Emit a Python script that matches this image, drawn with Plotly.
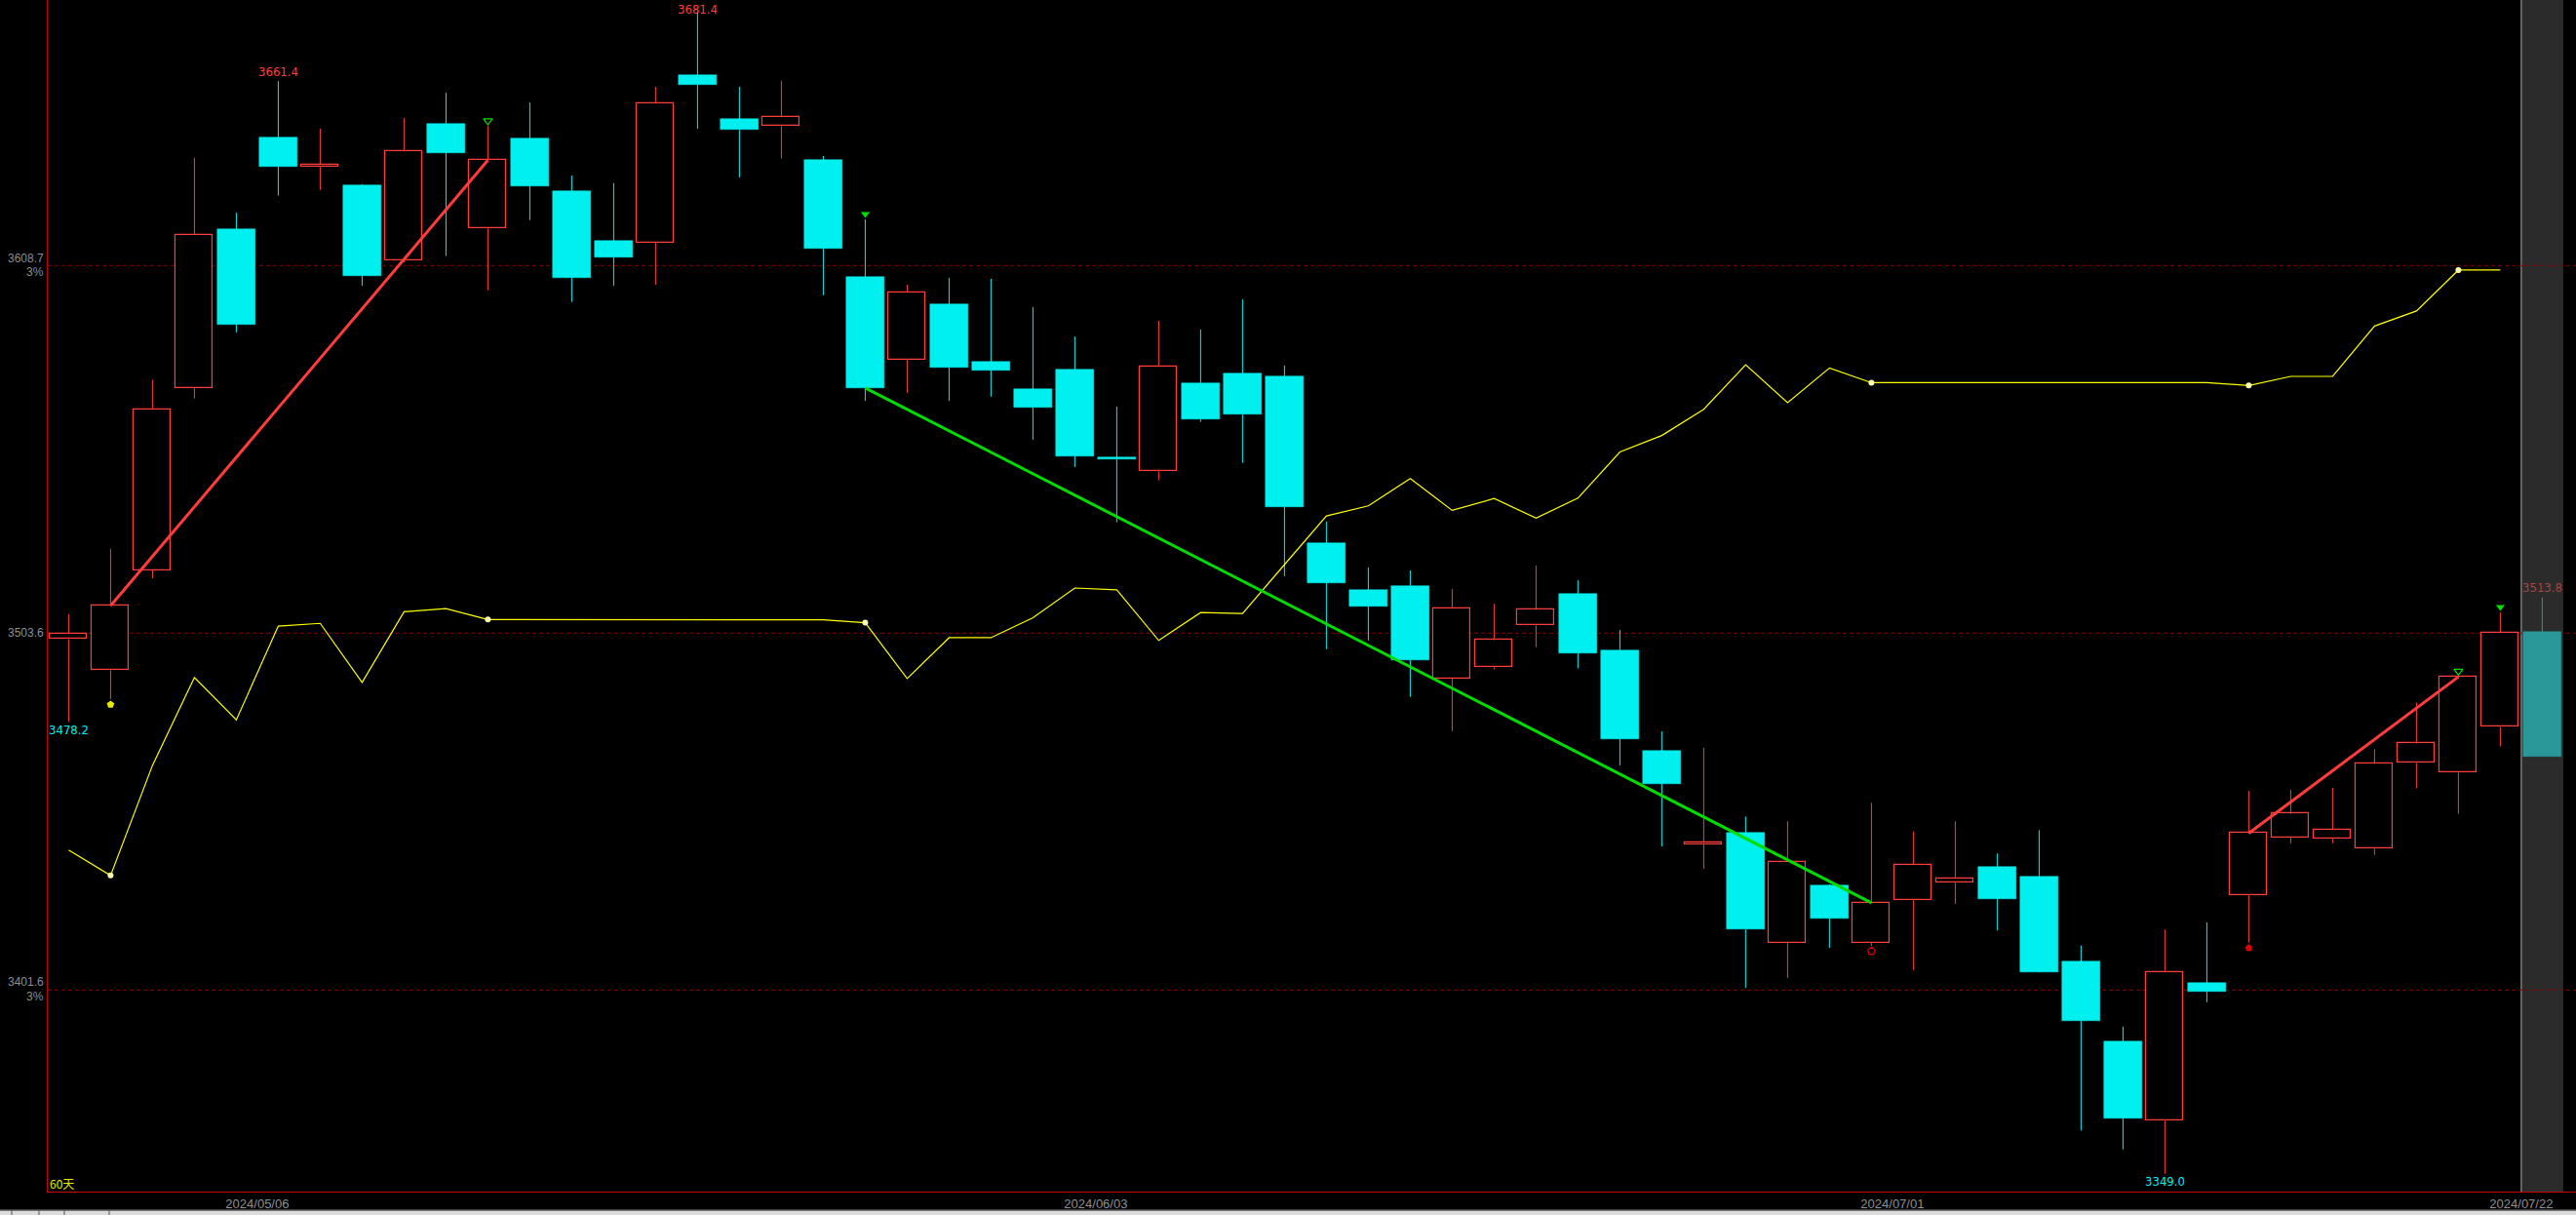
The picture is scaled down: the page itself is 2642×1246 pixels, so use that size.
import plotly.graph_objects as go

# ---------------- data ----------------
dates = ["2024/04/25", "2024/04/26", "2024/04/29", "2024/04/30",
         "2024/05/06", "2024/05/07", "2024/05/08", "2024/05/09", "2024/05/10",
         "2024/05/13", "2024/05/14", "2024/05/15", "2024/05/16", "2024/05/17",
         "2024/05/20", "2024/05/21", "2024/05/22", "2024/05/23", "2024/05/24",
         "2024/05/27", "2024/05/28", "2024/05/29", "2024/05/30", "2024/05/31",
         "2024/06/03", "2024/06/04", "2024/06/05", "2024/06/06", "2024/06/07",
         "2024/06/11", "2024/06/12", "2024/06/13", "2024/06/14",
         "2024/06/17", "2024/06/18", "2024/06/19", "2024/06/20", "2024/06/21",
         "2024/06/24", "2024/06/25", "2024/06/26", "2024/06/27", "2024/06/28",
         "2024/07/01", "2024/07/02", "2024/07/03", "2024/07/04", "2024/07/05",
         "2024/07/08", "2024/07/09", "2024/07/10", "2024/07/11", "2024/07/12",
         "2024/07/15", "2024/07/16", "2024/07/17", "2024/07/18", "2024/07/19",
         "2024/07/22", "2024/07/23"]

opens = [3501.9, 3493.0, 3521.6, 3573.6, 3619.1, 3645.3, 3637.0, 3631.7, 3610.1, 3649.2,
         3619.3, 3645.0, 3630.0, 3615.8, 3615.3, 3663.1, 3650.6, 3648.6, 3638.9, 3605.4,
         3581.8, 3597.6, 3581.2, 3573.4, 3579.0, 3553.9, 3549.9, 3575.1, 3577.8, 3577.0,
         3529.3, 3515.9, 3517.1, 3490.5, 3493.8, 3505.8, 3514.8, 3498.7, 3469.9, 3443.2,
         3446.5, 3415.0, 3431.4, 3415.0, 3427.4, 3432.3, 3436.7, 3434.1, 3409.6, 3386.9,
         3364.2, 3403.6, 3428.6, 3445.1, 3444.8, 3442.0, 3466.5, 3463.7, 3476.8, 3504.0]
highs = [3509.0, 3527.7, 3576.0, 3639.5, 3623.8, 3661.4, 3647.8, 3632.0, 3650.9, 3658.1,
         3648.7, 3655.3, 3634.4, 3632.3, 3659.8, 3681.4, 3659.8, 3661.5, 3640.0, 3621.9,
         3603.2, 3605.2, 3604.9, 3596.8, 3588.4, 3568.4, 3592.9, 3590.4, 3599.0, 3580.1,
         3535.5, 3522.4, 3521.5, 3516.2, 3512.0, 3522.9, 3518.7, 3504.5, 3475.5, 3470.8,
         3451.2, 3449.8, 3431.8, 3455.1, 3446.9, 3449.8, 3440.6, 3447.3, 3414.3, 3391.1,
         3418.9, 3420.9, 3458.5, 3458.8, 3459.4, 3470.4, 3483.8, 3491.3, 3509.5, 3513.8]
lows = [3478.2, 3484.8, 3519.3, 3570.7, 3589.6, 3628.7, 3630.3, 3602.9, 3609.6, 3611.4,
        3601.6, 3621.7, 3598.3, 3602.9, 3603.2, 3647.8, 3633.9, 3639.3, 3600.2, 3570.0,
        3572.3, 3570.0, 3571.2, 3558.9, 3551.1, 3535.3, 3547.3, 3564.0, 3552.3, 3519.9,
        3499.0, 3501.5, 3485.4, 3475.6, 3493.2, 3499.6, 3493.5, 3465.8, 3442.6, 3436.2,
        3402.2, 3405.0, 3413.6, 3414.2, 3407.3, 3426.2, 3418.6, 3406.6, 3361.4, 3356.0,
        3349.0, 3398.1, 3415.1, 3443.5, 3443.5, 3440.2, 3459.2, 3451.9, 3471.2, 3468.4]
closes = [3503.3, 3511.4, 3567.6, 3617.4, 3591.9, 3637.0, 3637.6, 3605.8, 3641.3, 3640.9,
          3638.8, 3631.5, 3605.2, 3611.0, 3655.0, 3660.4, 3647.5, 3651.1, 3613.6, 3573.7,
          3600.9, 3579.5, 3578.7, 3568.1, 3554.1, 3553.3, 3579.7, 3564.7, 3566.1, 3539.7,
          3518.0, 3511.3, 3496.0, 3510.6, 3501.6, 3510.3, 3497.9, 3473.4, 3460.5, 3443.8,
          3418.9, 3438.2, 3422.0, 3426.5, 3437.4, 3433.5, 3427.7, 3406.8, 3392.8, 3364.9,
          3406.6, 3401.2, 3446.4, 3452.0, 3447.3, 3466.2, 3472.1, 3491.1, 3503.6, 3468.4]

# yellow indicator line (ends one bar before the last)
indicator = [3441.6, 3434.3, 3465.8, 3490.9, 3478.8, 3505.6, 3506.4, 3489.5, 3509.7, 3510.6,
             3507.5, 3507.5, 3507.5, 3507.5, 3507.5, 3507.5, 3507.5, 3507.5, 3507.4, 3506.6,
             3490.6, 3502.3, 3502.3, 3508.0, 3516.5, 3516.0, 3501.5, 3509.5, 3509.2, 3523.2,
             3537.1, 3540.0, 3547.8, 3538.7, 3542.1, 3536.5, 3542.2, 3555.4, 3560.1, 3567.6,
             3580.3, 3569.5, 3579.4, 3575.2, 3575.2, 3575.2, 3575.2, 3575.2, 3575.2, 3575.2,
             3575.2, 3575.2, 3574.4, 3577.0, 3577.0, 3591.4, 3595.7, 3607.4, 3607.4]
indicator_dots = [1, 10, 19, 43, 52, 57]

# trend segments connect closes of these bars
trend_pairs = [(1, 10), (19, 43), (52, 57)]

# signal arrows
buy_fill_idx = [1, 52]
buy_fill_price = [3483.2, 3413.6]
buy_open_idx = [43]
buy_open_price = [3412.7]
sell_fill_idx = [19, 58]
sell_fill_price = [3623.4, 3511.1]
sell_open_idx = [10, 57]
sell_open_price = [3650.1, 3492.7]

ref_price = 3503.6
band_pct = 0.03
tick_dates = ["2024/05/06", "2024/06/03", "2024/07/01", "2024/07/22"]
period_label = "60天"

# ---------------- styles ----------------
RED = "#ff3c3c"
CYAN = "#00f0f0"
TEAL = "#2a9898"
GREEN = "#00dc00"
YELLOW = "#ffff00"
AXIS_GRAY = "#8f8f8f"
BORDER = "#c80000"
DASH = "#8a0000"
NARROW = "Liberation Sans Narrow, Arial Narrow, DejaVu Sans Condensed, Liberation Sans, sans-serif"
SANS = "Liberation Sans, Arial, sans-serif"

n = len(dates)
xs = list(range(n))
last = n - 1

fig = go.Figure()

# ---- wicks (segments outside bodies) ----
def wick_segments(idx_list):
    wx, wy = [], []
    for i in idx_list:
        top = max(opens[i], closes[i])
        bot = min(opens[i], closes[i])
        if highs[i] > top:
            wx += [i, i, None]
            wy += [highs[i], top, None]
        if lows[i] < bot:
            wx += [i, i, None]
            wy += [bot, lows[i], None]
    return wx, wy

up_idx = [i for i in range(last) if closes[i] >= opens[i]]
dn_idx = [i for i in range(last) if closes[i] < opens[i]]

for idx_list, col in [(up_idx, RED), (dn_idx, CYAN), ([last], TEAL)]:
    wx, wy = wick_segments(idx_list)
    fig.add_trace(go.Scatter(x=wx, y=wy, mode="lines",
                             line=dict(color=col, width=1), hoverinfo="skip"))

# ---- bodies ----
def body(idx_list):
    b = [min(opens[i], closes[i]) for i in idx_list]
    h = [max(abs(closes[i] - opens[i]), 0.35) for i in idx_list]
    return b, h

b, h = body(up_idx)
fig.add_trace(go.Bar(x=up_idx, y=h, base=b, width=0.88,
                     marker=dict(color="#000000", line=dict(color=RED, width=1.2))))
b, h = body(dn_idx)
fig.add_trace(go.Bar(x=dn_idx, y=h, base=b, width=0.9,
                     marker=dict(color=CYAN, line=dict(color=CYAN, width=0.5))))
b, h = body([last])
fig.add_trace(go.Bar(x=[last], y=h, base=b, width=0.9,
                     marker=dict(color=TEAL, line=dict(color=TEAL, width=0.5))))

# ---- yellow indicator ----
fig.add_trace(go.Scatter(x=xs[:len(indicator)], y=indicator, mode="lines",
                         line=dict(color=YELLOW, width=1.2), hoverinfo="skip"))
fig.add_trace(go.Scatter(x=indicator_dots, y=[indicator[i] for i in indicator_dots],
                         mode="markers", marker=dict(color="#ffffb0", size=6, symbol="circle"),
                         hoverinfo="skip"))

# ---- trend segments ----
for (a, c), col in zip(trend_pairs, [RED, GREEN, RED]):
    fig.add_trace(go.Scatter(x=[a, c], y=[closes[a], closes[c]], mode="lines",
                             line=dict(color=col, width=3), hoverinfo="skip"))

# ---- signal arrows ----
fig.add_trace(go.Scatter(x=[buy_fill_idx[0]], y=[buy_fill_price[0]], mode="markers",
                         marker=dict(symbol="pentagon", size=8, color="#e8e800"), hoverinfo="skip"))
fig.add_trace(go.Scatter(x=buy_fill_idx[1:], y=buy_fill_price[1:], mode="markers",
                         marker=dict(symbol="pentagon", size=8, color="#e00000"), hoverinfo="skip"))
fig.add_trace(go.Scatter(x=buy_open_idx, y=buy_open_price, mode="markers",
                         marker=dict(symbol="pentagon-open", size=8, color="#e00000",
                                     line=dict(width=1.2)), hoverinfo="skip"))
fig.add_trace(go.Scatter(x=sell_fill_idx, y=sell_fill_price, mode="markers",
                         marker=dict(symbol="triangle-down", size=8, color="#00e000"), hoverinfo="skip"))
fig.add_trace(go.Scatter(x=sell_open_idx, y=sell_open_price, mode="markers",
                         marker=dict(symbol="triangle-down-open", size=8, color="#00e000",
                                     line=dict(width=1.2)), hoverinfo="skip"))

# ---- shapes: highlight column, reference lines ----
shapes = []
shapes.append(dict(type="rect", xref="x", yref="paper", x0=last - 0.5, x1=last + 0.5,
                   y0=0, y1=1, fillcolor="#2b2b2b", line=dict(width=0), layer="below"))
shapes.append(dict(type="line", xref="x", yref="paper", x0=last - 0.5, x1=last - 0.5,
                   y0=0, y1=1, line=dict(color="#7a7a7a", width=1.5), layer="below"))
levels = [ref_price * (1 + band_pct), ref_price, ref_price / (1 + band_pct)]
for lv in levels:
    shapes.append(dict(type="line", xref="paper", yref="y", x0=0, x1=1, y0=lv, y1=lv,
                       line=dict(color=DASH, width=1, dash="4px,3px"), layer="below"))
# bottom status strip
fig_w, fig_h, mb = 2642, 1246, 24
plot_h = fig_h - mb
strip_top = -19.0 / plot_h
strip_bot = -24.0 / plot_h
shapes.append(dict(type="rect", xref="paper", yref="paper", x0=-0.02, x1=1.0,
                   y0=strip_bot, y1=strip_top, fillcolor="#dcdcdc", line=dict(width=0)))
shapes.append(dict(type="line", xref="paper", yref="paper", x0=-0.02, x1=1.0,
                   y0=strip_top, y1=strip_top, line=dict(color="#555555", width=1.5)))
for px in [12, 40, 66, 112]:
    xp = (px - 49) / (fig_w - 49)
    shapes.append(dict(type="line", xref="paper", yref="paper", x0=xp, x1=xp,
                       y0=strip_bot, y1=strip_top, line=dict(color="#555555", width=1)))

# ---- annotations ----
ann = []
fmt = lambda v: f"{v:.1f}"
ann.append(dict(x=0, y=levels[0], xref="paper", yref="y", text=fmt(levels[0]), xanchor="right",
                yanchor="middle", xshift=-2, yshift=7, showarrow=False,
                font=dict(color=AXIS_GRAY, size=12, family=SANS)))
ann.append(dict(x=0, y=levels[0], xref="paper", yref="y", text=f"{int(band_pct*100)}%",
                xanchor="right", yanchor="middle", xshift=-2, yshift=-7, showarrow=False,
                font=dict(color=AXIS_GRAY, size=12, family=SANS)))
ann.append(dict(x=0, y=levels[1], xref="paper", yref="y", text=fmt(levels[1]), xanchor="right",
                yanchor="middle", xshift=-2, yshift=0, showarrow=False,
                font=dict(color=AXIS_GRAY, size=12, family=SANS)))
ann.append(dict(x=0, y=levels[2], xref="paper", yref="y", text=fmt(levels[2]), xanchor="right",
                yanchor="middle", xshift=-2, yshift=8, showarrow=False,
                font=dict(color=AXIS_GRAY, size=12, family=SANS)))
ann.append(dict(x=0, y=levels[2], xref="paper", yref="y", text=f"{int(band_pct*100)}%",
                xanchor="right", yanchor="middle", xshift=-2, yshift=-7, showarrow=False,
                font=dict(color=AXIS_GRAY, size=12, family=SANS)))

# extreme price labels (top one kept just inside the top edge)
ann.append(dict(x=5, y=highs[5], text=fmt(highs[5]), showarrow=False, yanchor="middle",
                yshift=10, font=dict(color=RED, size=13, family=NARROW)))
ann.append(dict(x=15, y=highs[15], text=fmt(highs[15]), showarrow=False, yanchor="top",
                yshift=12, font=dict(color=RED, size=13, family=NARROW)))
ann.append(dict(x=last, y=highs[last], text=fmt(highs[last]), showarrow=False, yanchor="middle",
                yshift=10, font=dict(color="#a04848", size=13, family=NARROW)))
for i in [0, 50]:
    ann.append(dict(x=i, y=lows[i], text=fmt(lows[i]), showarrow=False, yanchor="middle",
                    yshift=-8, font=dict(color=CYAN, size=13, family=NARROW)))
ann.append(dict(x=0, y=0, xref="paper", yref="paper", text=period_label, showarrow=False,
                xanchor="left", yanchor="middle", xshift=0, yshift=9,
                font=dict(color="#e8e800", size=12, family="Noto Sans CJK SC, " + SANS)))

tickvals = [dates.index(d) + 0.5 for d in tick_dates]

fig.update_layout(
    width=fig_w, height=fig_h,
    margin=dict(l=49, r=0, t=0, b=mb, pad=0),
    paper_bgcolor="#000000", plot_bgcolor="#000000",
    showlegend=False, barmode="overlay", bargap=0,
    shapes=shapes, annotations=ann,
    xaxis=dict(range=[-0.4977, 59.805], showgrid=False, zeroline=False,
               showline=True, linecolor=BORDER, linewidth=1.2, ticks="",
               tickvals=tickvals, ticktext=tick_dates,
               tickfont=dict(color=AXIS_GRAY, size=13, family=SANS)),
    yaxis=dict(range=[3343.94, 3684.61], showgrid=False, zeroline=False,
               showline=True, linecolor=BORDER, linewidth=1.2, showticklabels=False, ticks=""),
    hovermode=False,
)

fig.write_html("out.html", config={"displayModeBar": False},
               post_script="document.body.style.margin='0';document.body.style.background='#000';")
